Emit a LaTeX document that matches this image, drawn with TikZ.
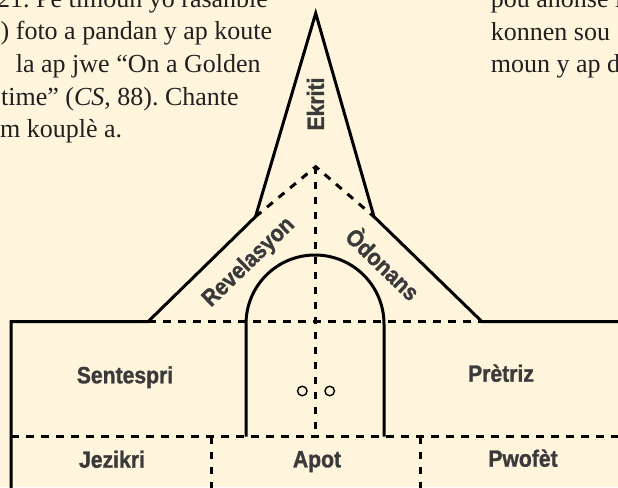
\documentclass[tikz,border=0pt]{standalone}
\usepackage{fontspec}
\setmainfont{Liberation Serif}
\newfontfamily\labfont{Liberation Sans Bold}[FakeStretch=0.9, FakeBold=1.2]
\definecolor{bg}{RGB}{254,245,220}
\definecolor{ink}{RGB}{35,31,32}
\definecolor{lbl}{RGB}{58,58,58}
\frenchspacing
\begin{document}
\begin{tikzpicture}[x=1pt,y=-1pt,
  wall/.style={line width=3pt, line join=miter, black},
  part/.style={line width=3pt, dash pattern=on 7.5pt off 7.5pt, black},
  lab/.style={font=\labfont\fontsize{23.5}{26}\selectfont, text=lbl, inner sep=0pt},
  body/.style={font=\fontsize{26}{32}\selectfont, text=ink, anchor=base west, inner sep=0pt},
  knob/.style={circle, draw, line width=1.4pt, minimum size=9.5pt, inner sep=0pt}]
\fill[bg] (0,0) rectangle (618,487);
\useasboundingbox (0,0) rectangle (618,487);
\clip (0,0) rectangle (618,487);

% body text (cropped page text)
\node[body] (t1) at (-3,7.7) {21. Pè timoun yo rasanble};
\node[body] (t2) at (0.5,40) {) foto a pandan y ap koute};
\node[body] (t3) at (15.7,72.7) {la ap jwe “On a Golden};
\node[body] (t4) at (1,105) {time” (\textit{CS}, 88). Chante};
\node[body] (t5) at (0,137.3) {m kouplè a.};
\node[body] (u1) at (490.7,7.7) {pou anonse l};
\node[body] (u2) at (490.7,40.7) {konnen sou};
\node[body] (u3) at (490.7,72.7) {moun y ap d};

% key points
\coordinate (apex) at (315.7,13.3);
\coordinate (sl) at (255.5,216.7);
\coordinate (sr) at (374,216.7);
\coordinate (ia) at (315.7,166.7);
\coordinate (rl) at (148,321.7);
\coordinate (rr) at (482,321.7);
\coordinate (wl) at (11,321.7);
\coordinate (wr) at (630,321.7);
\coordinate (bl) at (11,495);
\coordinate (ml) at (11,436.7);
\coordinate (mr) at (630,436.7);
\coordinate (d1t) at (211,436.7);
\coordinate (d1b) at (211,495);
\coordinate (d2t) at (420,436.7);
\coordinate (d2b) at (420,495);
\coordinate (cb) at (315.7,436.7);
\coordinate (al) at (246,436.7);
\coordinate (alt) at (246,324);
\coordinate (ar) at (384,436.7);

% dashed divisions
\draw[part] (rl) -- (rr);
\draw[part] (sl) -- (ia) -- (sr);
\draw[part] (ia) -- (cb);
\draw[part] (ml) -- (mr);
\draw[part] (d1t) -- (d1b);
\draw[part] (d2t) -- (d2b);

% solid outline
\draw[wall] (bl) -- (wl) -- (rl) -- (sl) -- (apex) -- (sr) -- (rr) -- (wr);
\draw[wall] (al) -- (alt) arc[start angle=180, end angle=0, radius=69pt] -- (ar);

% door knobs
\node[knob] (k1) at (302.3,391) {};
\node[knob] (k2) at (329.7,391) {};

% labels
\node[lab, rotate=90] (ekriti) at (315.5,104) {Ekriti};
\node[lab, rotate=44] (rev) at (249,262.5) {Revelasyon};
\node[lab, rotate=-44] (odo) at (384,263) {Òdonans};
\node[lab, anchor=base] (sent) at (125,383.3) {Sentespri};
\node[lab, anchor=base] (pret) at (501,381.7) {Prètriz};
\node[lab, anchor=base] (jez) at (112,467.7) {Jezikri};
\node[lab, anchor=base] (apot) at (317,467.3) {Apot};
\node[lab, anchor=base] (pwo) at (523,466.7) {Pwofèt};
\end{tikzpicture}
\end{document}
